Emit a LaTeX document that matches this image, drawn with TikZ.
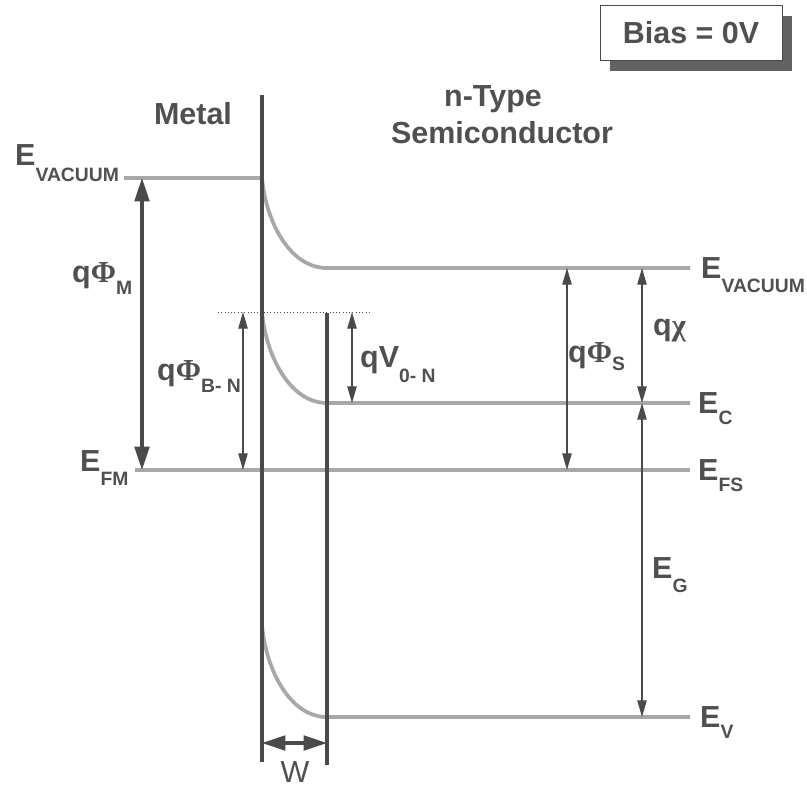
\documentclass[tikz,border=0pt]{standalone}
\usepackage{fontspec}
\setmainfont{Liberation Sans}
\newfontfamily\symfont{Liberation Serif}
\usetikzlibrary{arrows.meta}
\usetikzlibrary{shadows}

\definecolor{levelgray}{HTML}{A8A8A8}
\definecolor{linegray}{HTML}{4A4A4A}
\definecolor{textgray}{HTML}{505050}
\definecolor{shadowgray}{HTML}{626262}

\newcommand{\bigsz}{\fontsize{26}{29}\selectfont\bfseries}
\newcommand{\subsz}{\fontsize{16.5}{18}\selectfont\bfseries}
\newcommand{\lsub}[2][11pt]{\raisebox{-#1}{\subsz #2}}
\newcommand{\gk}[1]{{\symfont #1}}

\tikzset{
  level/.style={levelgray, line width=3.2pt},
  wall/.style={linegray, line width=2.6pt},
  bigarrow/.style={linegray, line width=2.6pt,
    {Triangle[length=7mm,width=4.4mm]}-{Triangle[length=7mm,width=4.4mm]}},
  thinarrow/.style={linegray, line width=1.1pt,
    {Triangle[length=5mm,width=2.8mm]}-{Triangle[length=5mm,width=2.8mm]}},
  elab/.style={inner sep=0pt, anchor=base west, text=textgray, font=\bigsz},
}

\begin{document}
\begin{tikzpicture}[x=0.3mm, y=-0.3mm]
    \useasboundingbox (0,0) rectangle (807,787);

    % Bias box
    \node (bias) [draw=linegray, line width=0.8pt, fill=white, text=textgray, font=\bigsz,
        minimum width=54.6mm, minimum height=16.5mm,
        drop shadow={shadow xshift=3mm, shadow yshift=-3mm, fill=shadowgray, opacity=1}]
        at (691,33) {Bias = 0V};

    % Region titles
    \node[text=textgray, font=\bigsz, anchor=base] (metal) at (193,124) {Metal};
    \node[text=textgray, font=\bigsz, anchor=base] (ntype) at (493,106) {n-Type};
    \node[text=textgray, font=\bigsz, anchor=base] (semi) at (502,143) {Semiconductor};

    % Band levels
    \coordinate (vacL) at (124,178);
    \coordinate (vacI) at (262,178);
    \coordinate (vacW) at (327,268);
    \coordinate (vacR) at (690,268);
    \coordinate (ecI) at (262,312);
    \coordinate (ecW) at (327,403);
    \coordinate (ecR) at (690,403);
    \coordinate (efL) at (135,470);
    \coordinate (efR) at (690,470);
    \coordinate (evI) at (262,625);
    \coordinate (evW) at (327,717);
    \coordinate (evR) at (690,717);

    \draw[level] (vacL) -- (vacI) .. controls (266,222) and (290,268) .. (vacW) -- (vacR);
    \draw[level] (ecI) .. controls (266,356) and (290,403) .. (ecW) -- (ecR);
    \draw[level] (efL) -- (efR);
    \draw[level] (evI) .. controls (266,670) and (290,717) .. (evW) -- (evR);

    % Barrier top
    \coordinate (dotL) at (218,312);
    \coordinate (dotR) at (372,312);
    \draw[linegray, dotted, thick] (dotL) -- (dotR);

    % Interface and depletion edge
    \coordinate (wallA) at (262,95);
    \coordinate (wallAb) at (262,762);
    \coordinate (wallB) at (327,313);
    \coordinate (wallBb) at (327,765);
    \draw[wall] (wallA) -- (wallAb);
    \draw[wall] (wallB) -- (wallBb);

    % Arrow columns
    \coordinate (xM) at (142,0);
    \coordinate (xB) at (243,0);
    \coordinate (xV) at (352,0);
    \coordinate (xS) at (567,0);
    \coordinate (xX) at (642,0);
    \coordinate (yW) at (0,743);

    \draw[bigarrow] (xM |- vacL) -- (xM |- efL);
    \draw[thinarrow] (xB |- dotL) -- (xB |- efL);
    \draw[thinarrow] (xV |- dotL) -- (xV |- ecR);
    \draw[thinarrow] (xS |- vacR) -- (xS |- efR);
    \draw[thinarrow] (xX |- vacR) -- (xX |- ecR);
    \draw[thinarrow] (xX |- ecR) -- (xX |- evR);
    \draw[bigarrow] (wallA |- yW) -- (wallB |- yW);

    % Level labels
    \node[elab] (evacl) at (15,165) {E\lsub[14pt]{VACUUM}};
    \node[elab] (evacr) at (701,278) {E\lsub[12.5pt]{VACUUM}};
    \node[elab] (ec) at (698,413) {E\lsub[10pt]{C}};
    \node[elab] (efs) at (698,480) {E\lsub[10pt]{FS}};
    \node[elab] (ev) at (700,727) {E\lsub[9.5pt]{V}};
    \node[elab] (efm) at (80,471) {E\lsub[12.5pt]{FM}};
    \node[elab] (eg) at (652,578) {E\lsub[12pt]{G}};

    % Energy differences
    \node[elab] (qphim) at (72,282) {q\gk{Φ}\lsub[11pt]{M}};
    \node[elab] (qphib) at (157,380) {q\gk{Φ}\lsub[11pt]{B- N}};
    \node[elab] (qv) at (360,367) {qV\lsub[13pt]{0- N}};
    \node[elab] (qphis) at (568,362) {q\gk{Φ}\lsub[7pt]{S}};
    \node[elab] (qchi) at (653,335) {q\gk{χ}};
    \node[text=textgray, font=\fontsize{26}{28}\selectfont, anchor=base] (wlab) at (295,782) {W};

\end{tikzpicture}
\end{document}
